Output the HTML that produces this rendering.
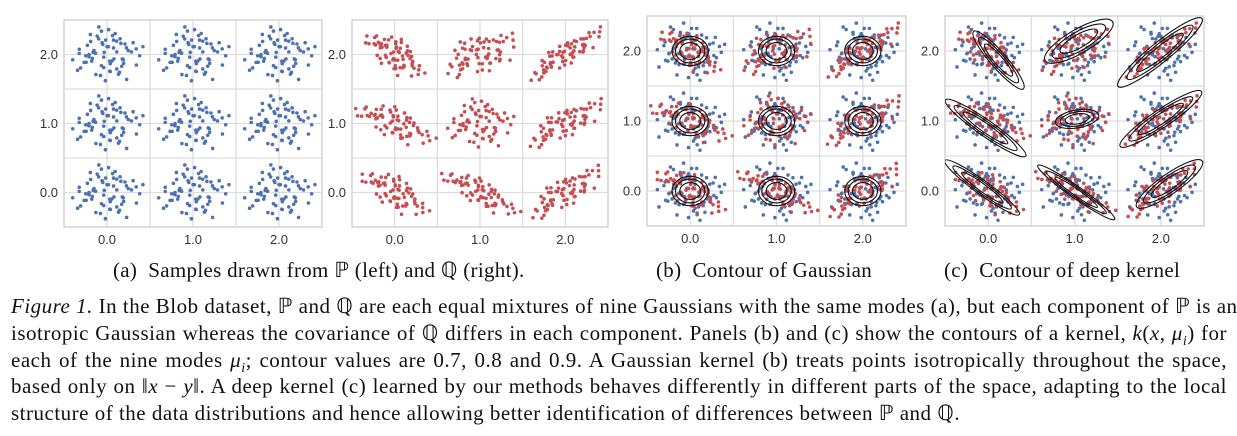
<!DOCTYPE html>
<html><head><meta charset="utf-8">
<style>
body{margin:0;width:1237px;height:436px;background:#fff;position:relative;overflow:hidden;font-family:"Liberation Serif",serif;}
svg{position:absolute;left:0;top:0}
.sub{position:absolute;top:258px;font-size:21px;line-height:24px;letter-spacing:0.3px;white-space:nowrap;color:#111}
#cap{position:absolute;left:11px;top:293px;width:1216px;font-size:21px;line-height:26.8px;letter-spacing:0.5px;color:#111}
#cap .ln{display:block;white-space:nowrap;text-align:justify;text-align-last:justify;height:26.8px}
#cap .ln.last{text-align-last:left}
sub{font-size:14px;line-height:0}
</style></head><body>
<svg id="fig" width="1237" height="250"></svg>
<div class="sub" style="left:113px">(a)&nbsp; Samples drawn from ℙ (left) and ℚ (right).</div>
<div class="sub" style="left:656px">(b)&nbsp; Contour of Gaussian</div>
<div class="sub" style="left:944px">(c)&nbsp; Contour of deep kernel</div>
<div id="cap">
<span class="ln"><i>Figure 1.</i> In the Blob dataset, ℙ and ℚ are each equal mixtures of nine Gaussians with the same modes (a), but each component of ℙ is an</span>
<span class="ln">isotropic Gaussian whereas the covariance of ℚ differs in each component. Panels (b) and (c) show the contours of a kernel, <i>k</i>(<i>x</i>, <i>μ</i><sub><i>i</i></sub>) for</span>
<span class="ln">each of the nine modes <i>μ</i><sub><i>i</i></sub>; contour values are 0.7, 0.8 and 0.9. A Gaussian kernel (b) treats points isotropically throughout the space,</span>
<span class="ln">based only on ‖<i>x</i> − <i>y</i>‖. A deep kernel (c) learned by our methods behaves differently in different parts of the space, adapting to the local</span>
<span class="ln last">structure of the data distributions and hence allowing better identification of differences between ℙ and ℚ.</span>
</div>
<script>
const modesX=[0,1,2,0,1,2,0,1,2];
const modesY=[2,2,2,1,1,1,0,0,0];
const ticks=[0,1,2];
const tickLabels=["0.0","1.0","2.0"];
const offX=[0.3,-1.2,0.8,-0.4,1.5,-0.9,0.1,-1.7,0.6,1.1,-0.2,-0.6,0.9,-1.4,0.4,2.0,-0.1,-1.0,1.3,0.2,-0.7,0.5,-2.1,1.8,-0.3,0.7,-1.3,0.0,1.0,-0.5,0.2,-1.8,1.6,-0.8,0.4,1.2,-1.1,0.6,-0.2,2.2];
const offY=[-0.5,0.7,1.2,-1.6,0.2,-0.3,1.9,0.4,-1.1,0.8,-0.2,1.4,-0.9,-0.6,0.5,-0.1,-2.0,1.0,0.3,-1.3,0.1,1.6,-0.4,-0.8,0.9,-1.5,-0.1,0.6,-0.4,2.1,-0.7,-1.2,0.9,0.3,1.1,-1.9,0.0,0.2,-1.0,0.6];
const pSigma=0.19;
const qAngle=[-45,30,40,-30,0,35,-40,-35,40];
const qMajor=[0.2,0.22,0.26,0.24,0.18,0.25,0.22,0.25,0.25];
const qMinor=[0.1,0.13,0.07,0.1,0.17,0.09,0.1,0.08,0.09];
const gaussRadii=[0.12,0.17,0.21];
const deepAngle=[49,-30,-39,35,-10,-34,36,35,-35];
const deepMajor=[38,39,54,49,22,49,46,47,40];
const deepMinor=[8,12,10,8,9,9,7,6,10];
const deepCx=[0.12,1.05,1.99,-0.03,1.03,2.0,-0.07,1.02,2.1];
const deepCy=[1.87,2.14,1.98,0.9,1.03,1.03,0.05,-0.02,0.1];
const panels=[
 {id:'a-left',x0:64,x1:322,y0:20,y1:227,p:true,q:false,c:0},
 {id:'a-right',x0:352,x1:608,y0:20,y1:227,p:false,q:true,c:0},
 {id:'b',x0:647,x1:906,y0:16,y1:226,p:true,q:true,c:1},
 {id:'c',x0:945,x1:1204,y0:16,y1:226,p:true,q:true,c:2}];
const NS='http://www.w3.org/2000/svg';
const svg=document.getElementById('fig');
function mk(t,a,parent){const e=document.createElementNS(NS,t);for(const k in a)e.setAttribute(k,a[k]);(parent||svg).appendChild(e);return e;}
panels.forEach(P=>{
 const sx=v=>P.x0+(v+0.5)/3*(P.x1-P.x0);
 const sy=v=>P.y1-(v+0.5)/3*(P.y1-P.y0);
 const g=mk('g',{});
 
 
 mk('rect',{x:P.x0,y:P.y0,width:P.x1-P.x0,height:P.y1-P.y0,fill:'#fff',stroke:'#cccccc','stroke-width':1.3},g);
 [0.5,1.5].forEach(v=>{mk('line',{x1:sx(v),x2:sx(v),y1:P.y0,y2:P.y1,stroke:'#dddddd','stroke-width':1.3},g);mk('line',{x1:P.x0,x2:P.x1,y1:sy(v),y2:sy(v),stroke:'#dddddd','stroke-width':1.3},g);});
 ticks.forEach((v,i)=>{
  mk('line',{x1:sx(v),x2:sx(v),y1:P.y0,y2:P.y1,stroke:'#dddddd','stroke-width':1.3},g);
  mk('line',{x1:P.x0,x2:P.x1,y1:sy(v),y2:sy(v),stroke:'#dddddd','stroke-width':1.3},g);
  const tx=mk('text',{x:sx(v),y:P.y1+17,'text-anchor':'middle','font-size':13,'font-family':'Liberation Sans, sans-serif',fill:'#333'},g);
  tx.textContent=tickLabels[i];
  
  
  const ty=mk('text',{x:P.x0-6,y:sy(v)+4.5,'text-anchor':'end','font-size':13,'font-family':'Liberation Sans, sans-serif',fill:'#333'},g);
  ty.textContent=tickLabels[i];
  
  
 });
 const clip='clip-'+P.id;
 const cp=mk('clipPath',{id:clip},g);mk('rect',{x:P.x0,y:P.y0,width:P.x1-P.x0,height:P.y1-P.y0},cp);
 const dg=mk('g',{'clip-path':'url(#'+clip+')'},g);
 function pts(k,isQ,alt){
  const out=[];
  for(let j=0;j<offX.length;j++){
   for(let s=0;s<2;s++){
    if(s===1 && j%3===0) continue;
    let a=s?offY[j]*0.85:offX[j], b=s?-offX[j]*0.85:offY[j];
    if(alt){const t=a;a=b;b=-t;}
    let dx,dy;
    if(!isQ){dx=a*pSigma;dy=b*pSigma;}
    else{const th=qAngle[k]*Math.PI/180;const u=a*qMajor[k],w=b*qMinor[k];dx=u*Math.cos(th)-w*Math.sin(th);dy=u*Math.sin(th)+w*Math.cos(th);}
    out.push([modesX[k]+dx,modesY[k]+dy]);
   }
  }
  return out;
 }
 for(let k=0;k<9;k++){
  if(P.p) pts(k,false,P.q).forEach(p=>{const c=mk('circle',{cx:sx(p[0]),cy:sy(p[1]),r:1.8,fill:'#4c72b0'},dg);});
  if(P.q) pts(k,true,false).forEach(p=>{const c=mk('circle',{cx:sx(p[0]),cy:sy(p[1]),r:1.8,fill:'#c44e52'},dg);});
 }
 for(let k=0;k<9;k++){
  if(P.c===1){
   gaussRadii.forEach(r=>{const e=mk('ellipse',{cx:sx(modesX[k]),cy:sy(modesY[k]),rx:r*(P.x1-P.x0)/3,ry:r*(P.y1-P.y0)/3,fill:'none',stroke:'#111','stroke-width':1.1},dg);});
  }
  if(P.c===2){
   [0.55,0.78,1].forEach(f=>{const e=mk('ellipse',{cx:0,cy:0,rx:deepMajor[k]*f,ry:deepMinor[k]*f,fill:'none',stroke:'#111','stroke-width':1.1,transform:'translate('+sx(deepCx[k])+','+sy(deepCy[k])+') rotate('+deepAngle[k]+')'},dg);});
  }
 }
});
</script>
</body></html>
